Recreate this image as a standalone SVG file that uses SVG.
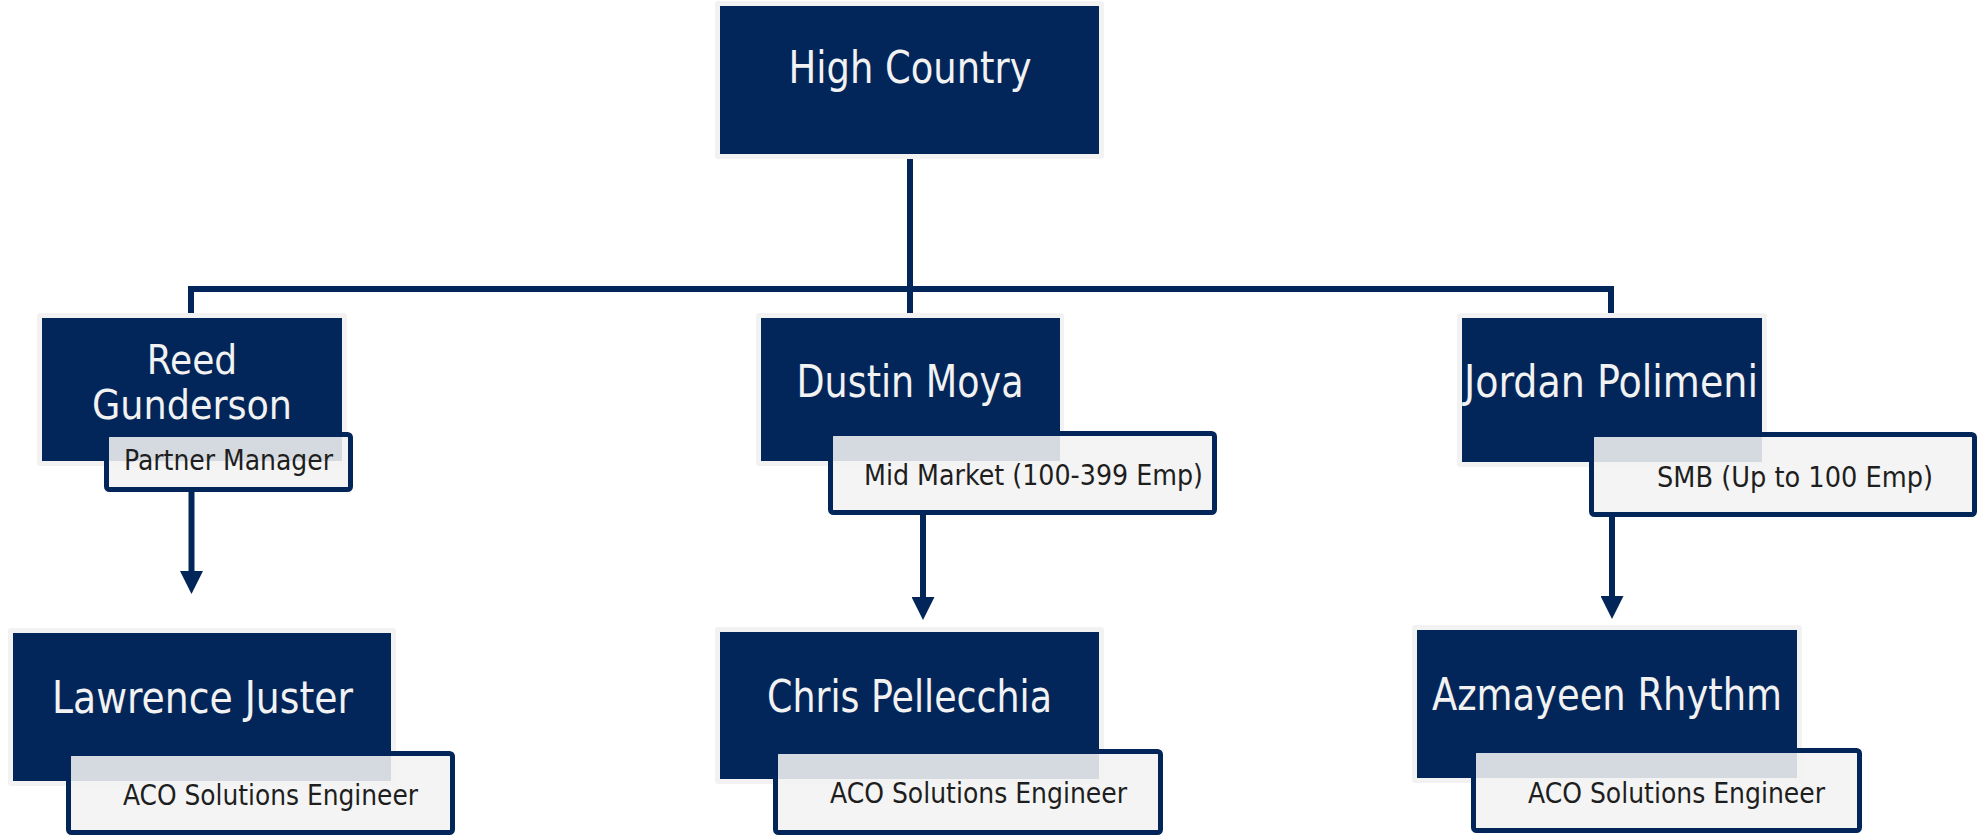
<svg xmlns="http://www.w3.org/2000/svg" width="1981" height="835" viewBox="0 0 1981 835">
<style>
.halo{fill:#f2f2f2}
.box{fill:#02265a}
.lbl{fill:#f2f2f2;fill-opacity:0.88;stroke:#02265a;stroke-width:5}
.name{fill:#f2f2f2;font-family:"DejaVu Sans Condensed","DejaVu Sans",sans-serif;font-stretch:condensed;font-size:44px}
.sub{fill:#1e1e1e;font-family:"DejaVu Sans Condensed","DejaVu Sans",sans-serif;font-stretch:condensed;font-size:27.5px}
.con{fill:none;stroke:#02265a;stroke-width:6}
</style>
<defs>
<marker id="arr" viewBox="0 0 23 23" refX="0" refY="11.5" markerWidth="23" markerHeight="23" markerUnits="userSpaceOnUse" orient="auto">
<path d="M0,0 L23,11.5 L0,23 Z" fill="#02265a"/>
</marker>
</defs>
<rect width="1981" height="835" fill="#ffffff"/>
<g id="connectors">
<path class="con" d="M910,159 V313"/>
<path class="con" d="M191,313 V289 H1611 V313"/>
<path class="con" d="M191.5,492 V571" marker-end="url(#arr)"/>
<path class="con" d="M923,515 V597" marker-end="url(#arr)"/>
<path class="con" d="M1612,517 V596" marker-end="url(#arr)"/>
</g>
<g id="high-country">
<rect class="halo" x="715" y="1" width="389" height="158" rx="3"/>
<rect class="box" x="720" y="6" width="379" height="148"/>
<text class="name" x="910" y="83" text-anchor="middle" textLength="243" lengthAdjust="spacingAndGlyphs">High Country</text>
</g>
<g id="reed-gunderson">
<rect class="halo" x="37" y="313" width="310" height="153" rx="3"/>
<rect class="box" x="42" y="318" width="300" height="143"/>
<text class="name" x="192" y="374" text-anchor="middle" style="font-size:40px">Reed</text>
<text class="name" x="192" y="419" text-anchor="middle" style="font-size:40px" textLength="200" lengthAdjust="spacingAndGlyphs">Gunderson</text>
<rect class="lbl" x="106.5" y="434.5" width="244" height="55" rx="3"/>
<text class="sub" x="124" y="470" textLength="209" lengthAdjust="spacingAndGlyphs">Partner Manager</text>
</g>
<g id="dustin-moya">
<rect class="halo" x="756" y="313" width="308" height="153" rx="3"/>
<rect class="box" x="761" y="318" width="299" height="143"/>
<text class="name" x="910" y="397" text-anchor="middle" textLength="227" lengthAdjust="spacingAndGlyphs">Dustin Moya</text>
<rect class="lbl" x="830.5" y="433.5" width="384" height="79" rx="3"/>
<text class="sub" x="864" y="485" textLength="339" lengthAdjust="spacingAndGlyphs">Mid Market (100-399 Emp)</text>
</g>
<g id="jordan-polimeni">
<rect class="halo" x="1457" y="313" width="310" height="154" rx="3"/>
<rect class="box" x="1462" y="318" width="300" height="144"/>
<text class="name" x="1464" y="397" textLength="294" lengthAdjust="spacingAndGlyphs">Jordan Polimeni</text>
<rect class="lbl" x="1591.5" y="434.5" width="383" height="80" rx="3"/>
<text class="sub" x="1657" y="487" textLength="276" lengthAdjust="spacingAndGlyphs">SMB (Up to 100 Emp)</text>
</g>
<g id="lawrence-juster">
<rect class="halo" x="8" y="628" width="388" height="158" rx="3"/>
<rect class="box" x="13" y="633" width="378" height="148"/>
<text class="name" x="52" y="713" textLength="301" lengthAdjust="spacingAndGlyphs">Lawrence Juster</text>
<rect class="lbl" x="68.5" y="753.5" width="384" height="79" rx="3"/>
<text class="sub" x="123" y="805" textLength="295" lengthAdjust="spacingAndGlyphs">ACO Solutions Engineer</text>
</g>
<g id="chris-pellecchia">
<rect class="halo" x="715" y="627" width="389" height="157" rx="3"/>
<rect class="box" x="720" y="632" width="379" height="147"/>
<text class="name" x="767" y="712" textLength="285" lengthAdjust="spacingAndGlyphs">Chris Pellecchia</text>
<rect class="lbl" x="775.5" y="751.5" width="385" height="81" rx="3"/>
<text class="sub" x="830" y="803" textLength="297" lengthAdjust="spacingAndGlyphs">ACO Solutions Engineer</text>
</g>
<g id="azmayeen-rhythm">
<rect class="halo" x="1412" y="625" width="390" height="158" rx="3"/>
<rect class="box" x="1417" y="630" width="380" height="148"/>
<text class="name" x="1432" y="710" textLength="350" lengthAdjust="spacingAndGlyphs">Azmayeen Rhythm</text>
<rect class="lbl" x="1473.5" y="750.5" width="386" height="80" rx="3"/>
<text class="sub" x="1528" y="803" textLength="297" lengthAdjust="spacingAndGlyphs">ACO Solutions Engineer</text>
</g>
</svg>
